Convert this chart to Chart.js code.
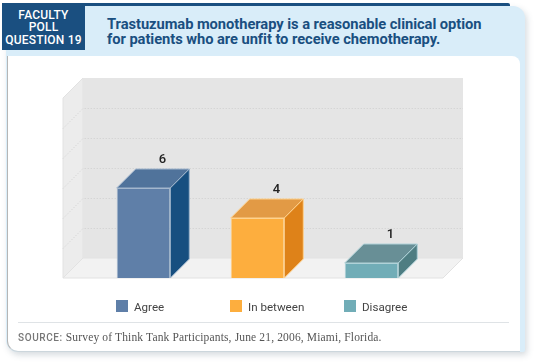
<!DOCTYPE html>
<html>
<head>
<meta charset="utf-8">
<script src="https://cdn.jsdelivr.net/npm/chart.js@4"></script>
<style>
html, body { margin: 0; padding: 0; background: #fff; }
#page { position: relative; width: 540px; height: 364px; overflow: hidden; font-family: Roboto, sans-serif; }
#panel { position: absolute; left: 6px; top: 6px; width: 519px; height: 346px; background: #d9edf9; border-radius: 0 12px 2px 12px; box-shadow: 2px 3px 6px rgba(70,90,110,.22); }
#white { position: absolute; left: 7px; top: 56px; width: 513px; height: 296px; background: #fff; border-radius: 0 8px 0 11px; border-left: 1px solid #b5b5b5; box-sizing: border-box; border-bottom: 1px solid #ccd6dc; }
#band { position: absolute; left: 2px; top: 3px; width: 508px; height: 3px; background: #1a4f80; border-radius: 0 2px 0 0; }
#badge { position: absolute; left: 2px; top: 3px; width: 83px; height: 47px; background: #1a4f80; color: #fff; font-size: 12px; font-weight: 500; line-height: 12.6px; text-align: center; padding-top: 5.5px; box-sizing: border-box; letter-spacing: .2px; }
#title { position: absolute; left: 107px; top: 16.5px; color: #1a4f80; font-size: 14.7px; font-weight: 700; line-height: 15.5px; white-space: nowrap; letter-spacing: -.05px; }
#rule { position: absolute; left: 18px; top: 322px; width: 491px; height: 1px; background: #dfe3e6; }
#source { position: absolute; left: 18px; top: 331px; font-family: "Liberation Serif", serif; font-size: 11.5px; color: #555; white-space: nowrap; letter-spacing: .15px; }
#source b { font-family: Roboto, sans-serif; font-size: 10px; font-weight: 500; color: #777; letter-spacing: .6px; }
canvas { position: absolute; left: 0; top: 0; }
.key { position: absolute; top: 300px; width: 12px; height: 12px; }
.keytext { position: absolute; top: 300px; font-size: 11.6px; color: #444; white-space: nowrap; }
</style>
</head>
<body>
<div id="page">
  <div id="panel"></div>
  <div id="white"></div>
  <div id="band"></div>
  <div id="badge">FACULTY<br>POLL<br>QUESTION 19</div>
  <div id="title">Trastuzumab monotherapy is a reasonable clinical option<br>for patients who are unfit to receive chemotherapy.</div>
  <canvas id="poll" width="540" height="364"></canvas>
  <div id="legend"></div>
  <div id="rule"></div>
  <div id="source"><b>SOURCE:</b> Survey of Think Tank Participants, June 21, 2006, Miami, Florida.</div>
</div>
<script>
// Data
const categories = ['Agree', 'In between', 'Disagree'];
const votes = [6, 4, 1];
const axisMax = 12;
const axisStep = 2;

// Face colours of each bar
const frontColors = ['#5f7fa8', '#fdae3e', '#71adb7'];
const topColors = ['#50739b', '#e29a45', '#688f96'];
const sideColors = ['#174f80', '#de8219', '#4e7d82'];
const edgeColors = ['#a3b7cd', '#fed28f', '#b0d2d8'];

const depth = 19; // how far the bars go back
const wallDepth = 20;

function poly(ctx, pts, fill, stroke) {
    ctx.beginPath();
    pts.forEach((p, i) => i ? ctx.lineTo(p[0], p[1]) : ctx.moveTo(p[0], p[1]));
    ctx.closePath();
    ctx.fillStyle = fill;
    ctx.fill();
    if (stroke) {
        ctx.strokeStyle = stroke;
        ctx.lineWidth = 1;
        ctx.stroke();
    }
}

// Walls and floor behind the bars
const roomPlugin = {
    id: 'room',
    beforeDatasetsDraw(chart) {
        const ctx = chart.ctx;
        const y = chart.scales.y;
        const area = chart.chartArea;
        const left = area.left - 23.5;
        const right = area.right + 14.5;
        const base = y.getPixelForValue(0);
        const top = y.getPixelForValue(axisMax);
        ctx.save();
        poly(ctx, [[left, top], [left + wallDepth, top - wallDepth], [left + wallDepth, base - wallDepth], [left, base]], '#ececec', '#e2e2e2');
        poly(ctx, [[left + wallDepth, top - wallDepth], [right + wallDepth, top - wallDepth], [right + wallDepth, base - wallDepth], [left + wallDepth, base - wallDepth]], '#e5e5e5');
        poly(ctx, [[left, base], [left + wallDepth, base - wallDepth], [right + wallDepth, base - wallDepth], [right, base]], '#f2f2f2', '#e2e2e2');
        ctx.setLineDash([1, 2]);
        ctx.strokeStyle = '#cfcfcf';
        ctx.lineWidth = 1;
        y.ticks.forEach(t => {
            if (t.value === 0 || t.value === axisMax) return;
            const py = Math.round(y.getPixelForValue(t.value)) + 0.5;
            ctx.beginPath();
            ctx.moveTo(left, py);
            ctx.lineTo(left + wallDepth, py - wallDepth);
            ctx.lineTo(right + wallDepth, py - wallDepth);
            ctx.stroke();
        });
        ctx.restore();
    },
    afterDatasetsDraw(chart) {
        const ctx = chart.ctx;
        const bars = chart.getDatasetMeta(0).data;
        ctx.save();
        bars.forEach((bar, i) => {
            const l = bar.x - bar.width / 2;
            const r = bar.x + bar.width / 2;
            poly(ctx, [[l, bar.y], [l + depth, bar.y - depth], [r + depth, bar.y - depth], [r, bar.y]], topColors[i], edgeColors[i]);
            poly(ctx, [[r, bar.y], [r + depth, bar.y - depth], [r + depth, bar.base - depth], [r, bar.base]], sideColors[i], edgeColors[i]);
            ctx.fillStyle = '#222';
            ctx.font = '500 13px Roboto';
            ctx.textAlign = 'center';
            ctx.textBaseline = 'middle';
            ctx.fillText(votes[i], bar.x + depth, bar.y - depth - 9.5);
        });
        ctx.restore();
    }
};

new Chart(document.getElementById('poll').getContext('2d'), {
    type: 'bar',
    data: {
        labels: categories,
        datasets: [{
            data: votes,
            backgroundColor: frontColors,
            borderColor: edgeColors,
            borderWidth: 1,
            barPercentage: 0.47,
            categoryPercentage: 1
        }]
    },
    options: {
        responsive: false,
        animation: false,
        layout: { padding: { left: 86.5, right: 111.5, top: 98, bottom: 86 } },
        plugins: { legend: { display: false }, tooltip: { enabled: false } },
        scales: {
            x: { display: false },
            y: { display: false, min: 0, max: axisMax, ticks: { stepSize: axisStep } }
        }
    },
    plugins: [roomPlugin]
});

// Legend
const legendEl = document.getElementById('legend');
const keyLeft = [116, 230, 344];
categories.forEach((name, i) => {
    legendEl.innerHTML += `<div class="key" style="left:${keyLeft[i]}px;background:${frontColors[i]}"></div>` +
        `<div class="keytext" style="left:${keyLeft[i] + 18}px">${name}</div>`;
});
</script>
</body>
</html>
